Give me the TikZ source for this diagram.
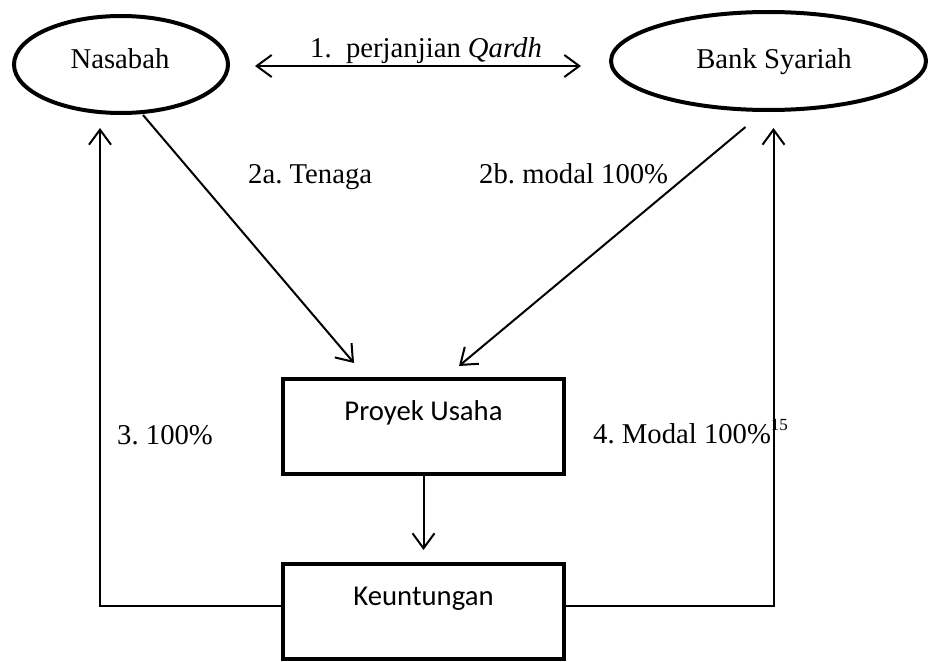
\documentclass[tikz,border=0pt]{standalone}
\usepackage{fontspec}
\setmainfont{Liberation Serif}
\newfontfamily\calibrifont{Carlito}
\usetikzlibrary{arrows.meta,shapes.geometric,calc}
\frenchspacing
\begin{document}
\begin{tikzpicture}[x=1pt,y=-1pt,
  every node/.style={font=\fontsize{28.7}{34}\selectfont},
  party/.style={draw,ellipse,line width=4pt,inner sep=0pt},
  stepbox/.style={draw,rectangle,line width=4pt,inner sep=0pt},
  boxtext/.style={inner sep=0pt,anchor=base,font=\fontsize{28.7}{34}\selectfont\calibrifont},
  lbl/.style={inner sep=0pt,anchor=base west},
  arr/.style={line width=2pt,-{Straight Barb[length=15pt,width=22pt,line width=2pt]}},
  darr/.style={line width=2pt,{Straight Barb[length=15pt,width=22pt,line width=2pt]}-{Straight Barb[length=15pt,width=22pt,line width=2pt]}},
  plain/.style={line width=2pt}]
\useasboundingbox (0,0) rectangle (928,661);
% parties
\node[party,minimum width=214pt,minimum height=97pt] (n) at (121,64.5) {};
\node[inner sep=0pt,anchor=base] (nt) at (120,68) {Nasabah};
\node[party,minimum width=315pt,minimum height=98pt] (b) at (768.5,61) {};
\node[inner sep=0pt,anchor=base] (bt) at (774,68) {Bank Syariah};
% boxes
\node[stepbox,minimum width=281pt,minimum height=95pt] (p) at (423.5,426.5) {};
\node[boxtext] (pt) at ([yshift=-43pt]p.north) {Proyek Usaha};
\node[stepbox,minimum width=281pt,minimum height=95pt] (k) at (423.5,611.5) {};
\node[boxtext] (kt) at ([yshift=-43pt]k.north) {Keuntungan};
% free ends
\coordinate (pl) at (255,66);
\coordinate (pr) at (581,66);
\coordinate (a1s) at (143,115);
\coordinate (a1e) at (354,363);
\coordinate (a2s) at (745.5,127);
\coordinate (a2e) at (459,366);
\coordinate (t3) at (100,128);
\coordinate (t4) at (773.5,128);
\coordinate (dk) at (423.5,550);
% connectors
\draw[darr] (pl) -- (pr);
\draw[arr] (a1s) -- (a1e);
\draw[arr] (a2s) -- (a2e);
\draw[arr] (p.south) -- (dk);
\draw[arr] ([yshift=5.5pt]k.west) -| (t3);
\draw[arr] ([yshift=5.5pt]k.east) -| (t4);
% labels
\node[lbl] (l1) at (310,58) {1.\ \ perjanjian \textit{Qardh}};
\node[lbl] (l2a) at (248,183) {2a. Tenaga};
\node[lbl] (l2b) at (479,183) {2b. modal 100\%};
\node[lbl] (l3) at (117,444) {3. 100\%};
\node[lbl] (l4) at (593,443) {4. Modal 100\%\raisebox{13pt}{\fontsize{17}{18}\selectfont 15}};
\end{tikzpicture}
\end{document}
